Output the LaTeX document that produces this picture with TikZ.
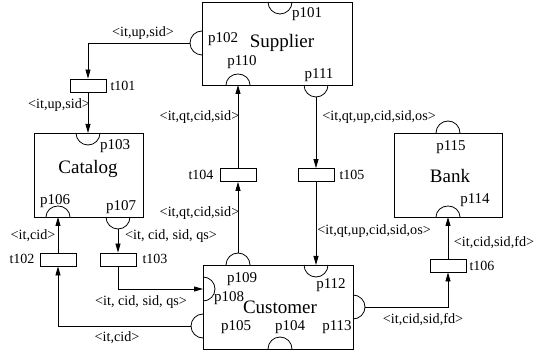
\documentclass[tikz,border=0pt]{standalone}
\usepackage{fontspec}
\setmainfont{Liberation Serif}
\usetikzlibrary{arrows.meta}
\begin{document}
\begin{tikzpicture}[x=1pt,y=-1pt,line width=0.8pt,
  >={Triangle[length=9pt,width=5pt]},
  comp/.style={draw,inner sep=0pt},
  trans/.style={draw,fill=white,minimum width=36pt,minimum height=13pt,inner sep=0pt},
  compname/.style={font=\fontsize{19}{19}\selectfont,inner sep=0pt},
  pname/.style={font=\fontsize{15}{15}\selectfont,inner sep=0pt},
  tname/.style={font=\fontsize{14}{14}\selectfont,inner sep=0pt},
  ename/.style={font=\fontsize{14.2}{14.2}\selectfont,inner sep=0pt}]
\useasboundingbox (0,0) rectangle (535,355);

% components
\node[comp,minimum width=150pt,minimum height=83pt] (supplier) at (277,43.5) {};
\node[comp,minimum width=109pt,minimum height=84pt] (catalog) at (88.5,175) {};
\node[comp,minimum width=150pt,minimum height=84pt] (customer) at (278,307) {};
\node[comp,minimum width=108pt,minimum height=84pt] (bank) at (448,175) {};

\node[compname] (lsupplier) at (282,43) {Supplier};
\node[compname] (lcatalog) at (88,169) {Catalog};
\node[compname] (lcustomer) at (280,307) {Customer};
\node[compname] (lbank) at (450,176) {Bank};

% places (coordinate = where the connector attaches)
\coordinate (p101) at (280,2);
\coordinate (p102) at (190,43);
\coordinate (p110) at (238,85);
\coordinate (p111) at (316,97);
\coordinate (p103) at (88,133);
\coordinate (p106) at (58,217);
\coordinate (p107) at (118,229);
\coordinate (p109) at (238,253);
\coordinate (p112) at (316,265);
\coordinate (p108) at (203,289);
\coordinate (p105) at (191,326);
\coordinate (p104) at (280,349);
\coordinate (p113) at (365,307);
\coordinate (p115) at (448,121);
\coordinate (p114) at (448,217);

% place half-circles: down = 180->0, up = 180->360, left = 270->90, right = -90->90
\draw (p101) ++(-12,0) arc[start angle=180,end angle=0,radius=12];
\draw (p102) ++(12,-12) arc[start angle=270,end angle=90,radius=12];
\draw (p110) ++(-12,0) arc[start angle=180,end angle=360,x radius=12,y radius=11];
\draw (p111) ++(-12,-12) arc[start angle=180,end angle=0,radius=12];
\draw (p103) ++(-12,0) arc[start angle=180,end angle=0,radius=12];
\draw (p106) ++(-12,0) arc[start angle=180,end angle=360,x radius=12,y radius=11];
\draw (p107) ++(-12,-12) arc[start angle=180,end angle=0,radius=12];
\draw (p109) ++(-12,12) arc[start angle=180,end angle=360,radius=12];
\draw (p112) ++(-12,0) arc[start angle=180,end angle=0,radius=12];
\draw (p108) ++(0,-12) arc[start angle=-90,end angle=90,radius=12];
\draw (p105) ++(12,-12) arc[start angle=270,end angle=90,radius=12];
\draw (p104) ++(-12,0) arc[start angle=180,end angle=360,radius=12];
\draw (p113) ++(-12,-12) arc[start angle=-90,end angle=90,radius=12];
\draw (p115) ++(-12,12) arc[start angle=180,end angle=360,radius=12];
\draw (p114) ++(-12,0) arc[start angle=180,end angle=360,x radius=12,y radius=11];

% place names
\node[pname] (lp101) at (307,14) {p101};
\node[pname] (lp102) at (223,39) {p102};
\node[pname] (lp110) at (242,62) {p110};
\node[pname] (lp111) at (319,75) {p111};
\node[pname] (lp103) at (115,146) {p103};
\node[pname] (lp106) at (55,201) {p106};
\node[pname] (lp107) at (121,207) {p107};
\node[pname] (lp109) at (242,279) {p109};
\node[pname] (lp112) at (331,285) {p112};
\node[pname] (lp108) at (229,298) {p108};
\node[pname] (lp105) at (236,327) {p105};
\node[pname] (lp104) at (290,327) {p104};
\node[pname] (lp113) at (337,327) {p113};
\node[pname] (lp115) at (451,147) {p115};
\node[pname] (lp114) at (475,200) {p114};

% transitions
\node[trans] (t101) at (88,85.5) {};
\node[trans] (t102) at (58,259.5) {};
\node[trans] (t103) at (118,259.5) {};
\node[trans] (t104) at (238,175) {};
\node[trans] (t105) at (316,175) {};
\node[trans] (t106) at (448,265.5) {};

\node[tname] (lt101) at (123,86) {t101};
\node[tname] (lt102) at (22,259) {t102};
\node[tname] (lt103) at (155,259) {t103};
\node[tname] (lt104) at (201,175) {t104};
\node[tname] (lt105) at (352,175) {t105};
\node[tname] (lt106) at (482,266) {t106};

% arcs of the net
\draw[->] (p102) -| (t101.north);
\draw[->] (t101.south) -- (p103);
\draw[->] (p107) -- (t103.north);
\draw[->] (t102.north) -- (p106);
\draw[->] (t103.south) |- (p108);
\draw[->] (p105) -| (t102.south);
\draw[->] (p109) -- (t104.south);
\draw[->] (t104.north) -- (p110);
\draw[->] (p111) -- (t105.north);
\draw[->] (t105.south) -- (p112);
\draw[->] (p113) -| (t106.south);
\draw[->] (t106.north) -- (p114);

% arc inscriptions
\node[ename] (e1) at (143,33) {<it,up,sid>};
\node[ename] (e2) at (59,105) {<it,up,sid>};
\node[ename] (e3) at (33,236) {<it,cid>};
\node[ename] (e4) at (171,236) {<it, cid, sid, qs>};
\node[ename] (e5) at (141,302) {<it, cid, sid, qs>};
\node[ename] (e6) at (117,338) {<it,cid>};
\node[ename] (e7) at (199.5,117) {<it,qt,cid,sid>};
\node[ename] (e8) at (199.5,213) {<it,qt,cid,sid>};
\node[ename,anchor=west] (e9) at (322,117) {<it,qt,up,cid,sid,os>};
\node[ename,anchor=west] (e10) at (317,231) {<it,qt,up,cid,sid,os>};
\node[ename] (e11) at (494,243) {<it,cid,sid,fd>};
\node[ename] (e12) at (423,320) {<it,cid,sid,fd>};
\end{tikzpicture}
\end{document}
